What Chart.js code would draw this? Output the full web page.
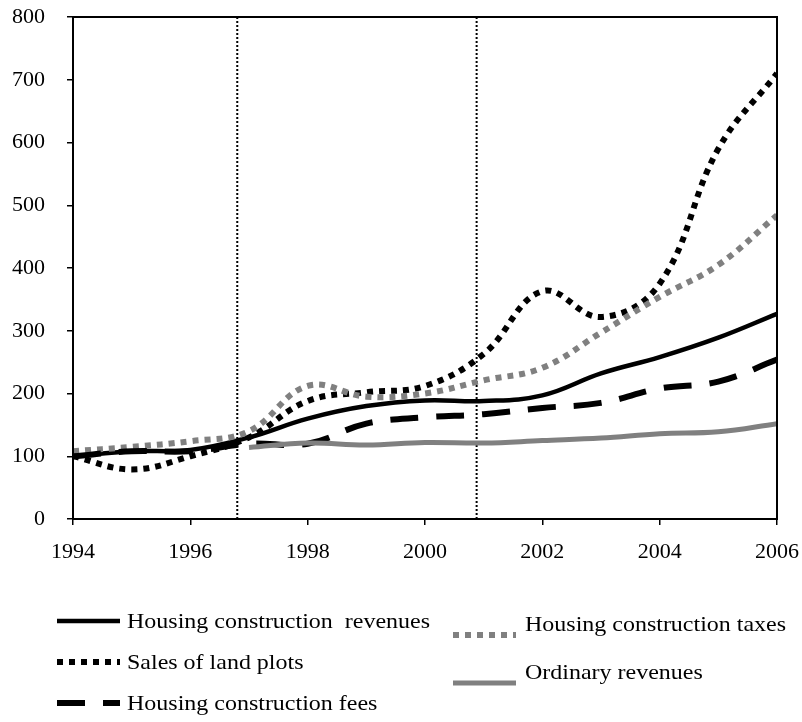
<!DOCTYPE html>
<html>
<head>
<meta charset="utf-8">
<script src="https://cdn.jsdelivr.net/npm/chart.js@4.4.1/dist/chart.umd.min.js"></script>
<style>
  html, body { margin: 0; padding: 0; background: #fff; }
  #wrap { width: 802px; height: 722px; position: relative; }
</style>
</head>
<body>
<div id="wrap"><canvas id="chart"></canvas></div>
<script>
// years on the x axis
const years = [1994, 1995, 1996, 1997, 1998, 1999, 2000, 2001, 2002, 2003, 2004, 2005, 2006];
// series values (index, 1994 = 100)
const revenues = [100, 108, 110, 130, 160, 180, 189, 188, 197, 232, 258, 289, 327];
const landPlots = [100, 79, 100, 130, 188, 202, 212, 263, 363, 322, 375, 590, 710];
const taxes = [108, 115, 124, 140, 212, 195, 200, 221, 241, 297, 354, 405, 484];
const fees = [100, 108, 108, 120, 120, 152, 162, 167, 177, 185, 208, 219, 254];
const ordinary = [null, null, null, 114, 121, 118, 122, 121, 125, 129, 136, 139, 152];
// vertical marker years
const markers = [1996.8, 2000.88];
// tick labels
const xTicks = [1994, 1996, 1998, 2000, 2002, 2004, 2006];
const yTicks = [0, 100, 200, 300, 400, 500, 600, 700, 800];

const labels = [
  "Housing construction  revenues",
  "Sales of land plots",
  "Housing construction fees",
  "Housing construction taxes",
  "Ordinary revenues"
];

const GRAY = "#808080";
const FONT = "Liberation Serif";

function pts(vals) {
  const out = [];
  vals.forEach((v, i) => { if (v !== null) out.push({ x: years[i], y: v }); });
  return out;
}

// series draw order: bottom to top
const series = [
  { label: labels[4], data: pts(ordinary), borderColor: GRAY, borderWidth: 5, borderDash: [] },
  { label: labels[2], data: pts(fees), borderColor: "#000", borderWidth: 6, borderDash: [28, 18] },
  { label: labels[3], data: pts(taxes), borderColor: GRAY, borderWidth: 6, borderDash: [6, 6] },
  { label: labels[0], data: pts(revenues), borderColor: "#000", borderWidth: 4.5, borderDash: [] },
  { label: labels[1], data: pts(landPlots), borderColor: "#000", borderWidth: 6, borderDash: [6, 6] }
];

const datasets = series.map(s => ({
  label: s.label,
  data: s.data,
  borderColor: s.borderColor,
  borderWidth: s.borderWidth,
  borderDash: s.borderDash,
  borderCapStyle: "butt",
  tension: 0.4,
  pointRadius: 0,
  fill: false
}));

markers.forEach(m => {
  datasets.push({
    label: "marker",
    data: [{ x: m, y: 0 }, { x: m, y: 800 }],
    borderColor: "#000",
    borderWidth: 2,
    borderDash: [2, 2],
    pointRadius: 0,
    tension: 0,
    fill: false
  });
});

//frame around plot + legend drawn below the chart
const framePlugin = {
  id: "frame",
  afterDraw(chart) {
    const ctx = chart.ctx;
    const a = chart.chartArea;
    ctx.save();
    ctx.strokeStyle = "#000";
    ctx.lineWidth = 2;
    ctx.strokeRect(a.left, a.top, a.right - a.left, a.bottom - a.top);

    // legend entries: [label index, sample x0, sample x1, sample y, text x, text y]
    const entries = [
      [0, 57, 120, 621, 127, 622],
      [1, 57, 120, 662, 127, 663],
      [2, 57, 120, 703, 127, 704],
      [3, 453, 516, 635, 525, 625],
      [4, 453, 516, 683, 525, 673]
    ];
    entries.forEach(e => {
      const ds = chart.data.datasets.find(d => d.label === labels[e[0]]);
      ctx.beginPath();
      ctx.strokeStyle = ds.borderColor;
      ctx.lineWidth = ds.borderWidth;
      ctx.setLineDash(ds.borderDash);
      ctx.lineCap = "butt";
      ctx.moveTo(e[1], e[3]);
      ctx.lineTo(e[2], e[3]);
      ctx.stroke();
      ctx.setLineDash([]);
      // text in the picture is a bit wider than the font, stretch it
      ctx.save();
      ctx.translate(e[4], e[5]);
      ctx.scale(1.09, 1);
      ctx.fillStyle = "#000";
      ctx.font = "22px '" + FONT + "'";
      ctx.textBaseline = "middle";
      ctx.textAlign = "left";
      ctx.fillText(labels[e[0]], 0, 0);
      ctx.restore();
    });
    ctx.restore();
  }
};

function draw() {
  new Chart(document.getElementById("chart"), {
    type: "line",
    data: { datasets: datasets },
    plugins: [framePlugin],
    options: {
      responsive: true,
      maintainAspectRatio: false,
      animation: false,
      layout: { padding: { left: 0, right: 25, top: 17, bottom: 157 } },
      plugins: { legend: { display: false }, tooltip: { enabled: false } },
      scales: {
        x: {
          type: "linear",
          min: 1994,
          max: 2006,
          afterBuildTicks: s => { s.ticks = xTicks.map(v => ({ value: v })); },
          afterFit: s => { s.height = 46; s.paddingLeft = 0; s.paddingRight = 0; },
          ticks: {
            callback: v => String(v),
            color: "#000",
            font: { family: FONT, size: 22 },
            padding: 14,
            maxRotation: 0,
            autoSkip: false
          },
          grid: { drawOnChartArea: false, drawTicks: true, tickLength: 6, color: "#000", lineWidth: 1.5 },
          border: { display: true, color: "#000", width: 2 }
        },
        y: {
          min: 0,
          max: 800,
          afterBuildTicks: s => { s.ticks = yTicks.map(v => ({ value: v })); },
          afterFit: s => { s.width = 73; s.paddingTop = 0; s.paddingBottom = 0; },
          ticks: {
            color: "#000",
            font: { family: FONT, size: 22 },
            padding: 22
          },
          grid: { drawOnChartArea: false, drawTicks: true, tickLength: 6, color: "#000", lineWidth: 1.5 },
          border: { display: true, color: "#000", width: 2 }
        }
      }
    }
  });
}

// make sure the serif font is ready before drawing
document.fonts.load("22px '" + FONT + "'").then(draw, draw);
</script>
</body>
</html>
